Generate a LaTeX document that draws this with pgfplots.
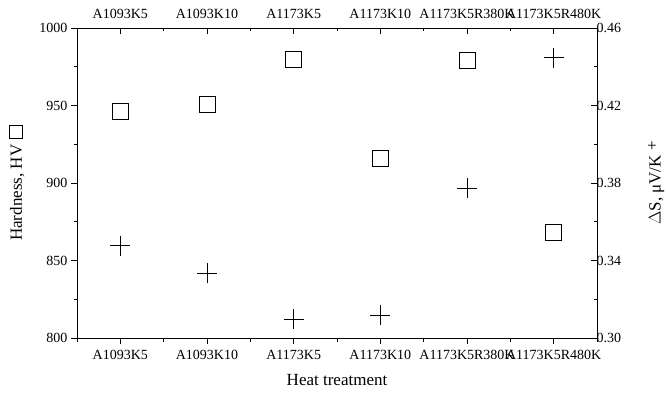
\documentclass[border=0pt]{standalone}
\usepackage{pgfplots}
\pgfplotsset{compat=1.18}
\usepackage{fontspec}
\setmainfont{Liberation Serif}
\begin{document}
\begin{tikzpicture}
\pgfplotsset{
  common/.style={
    scale only axis, width=520pt, height=310pt,
    xmin=0.5, xmax=6.5,
    xtick={1,2,3,4,5,6},
    xticklabels={A1093K5,A1093K10,A1173K5,A1173K10,A1173K5R380K,A1173K5R480K},
    minor xtick={0.5,1.5,2.5,3.5,4.5,5.5,6.5},
    major tick length=6pt, minor tick length=3.5pt,
    tick style={black, line width=0.75pt},
    axis line style={line width=0.75pt},
    tick label style={font=\fontsize{14}{16}\selectfont},
    label style={font=\fontsize{17}{20}\selectfont},
    /pgf/number format/assume math mode=true,
  }
}
\begin{axis}[common,
  name=main,
  ymin=800, ymax=1000,
  axis x line*=bottom, axis y line*=left,
  ytick={800,850,900,950,1000},
  minor ytick={825,875,925,975},
  yticklabel style={/pgf/number format/1000 sep={}},
  xticklabel style={yshift=-3pt},
  tick align=outside,
  xlabel={Heat treatment},
  ylabel={Hardness, HV\hspace{6pt}{\fboxsep=0pt\fboxrule=0.75pt\fbox{\rule{0pt}{12pt}\rule{12pt}{0pt}}}},
  xlabel style={yshift=-8pt},
  ylabel style={yshift=8pt},
]
\addplot[only marks, mark=square, mark size=8pt, mark options={line width=0.8pt}] coordinates {
(1,946) (2,951) (3,980) (4,916) (5,979) (6,868)};
\end{axis}
\begin{axis}[common,
  ymin=0.30, ymax=0.46,
  axis x line*=top, axis y line*=right,
  xticklabel pos=top,
  xticklabel style={yshift=6pt},
  ytick={0.30,0.34,0.38,0.42,0.46},
  minor ytick={0.32,0.36,0.40,0.44},
  yticklabel style={xshift=-4pt, /pgf/number format/fixed, /pgf/number format/fixed zerofill, /pgf/number format/precision=2},
  tick align=inside,
  ylabel={$\Delta$S, μV/K \raisebox{3pt}{+}},
  ylabel style={yshift=-20pt},
]
\addplot[only marks, mark=+, mark size=10pt, mark options={line width=0.8pt}] coordinates {
(1,0.3477) (2,0.3334) (3,0.3096) (4,0.3117) (5,0.3773) (6,0.4447)};
\end{axis}
\pgfresetboundingbox
\path ([xshift=-77pt,yshift=-57pt]main.south west) rectangle ([xshift=69pt,yshift=28pt]main.north east);
\end{tikzpicture}
\end{document}
